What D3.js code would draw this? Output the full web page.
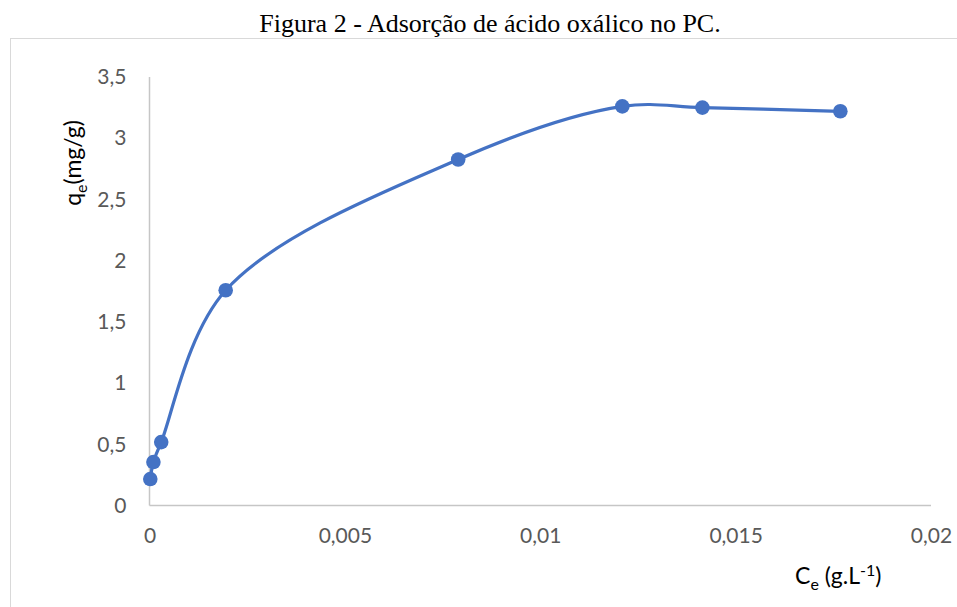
<!DOCTYPE html>
<html>
<head>
<meta charset="utf-8">
<script src="https://cdn.jsdelivr.net/npm/d3@7"></script>
<style>
  body { margin: 0; background: #fff; }
  svg { display: block; }
</style>
</head>
<body>
<svg id="chart"></svg>
<script>
// data
const ceValues = [0.00002, 0.0001, 0.0003, 0.00195, 0.0079, 0.0121, 0.01415, 0.01768];
const qeValues = [0.216, 0.355, 0.518, 1.758, 2.826, 3.26, 3.25, 3.22];
const xTicks = [0, 0.005, 0.01, 0.015, 0.02];
const xTickLabels = ["0", "0,005", "0,01", "0,015", "0,02"];
const yTicks = [0, 0.5, 1, 1.5, 2, 2.5, 3, 3.5];
const yTickLabels = ["0", "0,5", "1", "1,5", "2", "2,5", "3", "3,5"];

const w = 957;
const h = 607;
const plotLeft = 149.5;
const plotRight = 931;
const plotTop = 77;
const plotBottom = 505.5;

const points = ceValues.map((c, i) => ({ x: c, y: qeValues[i] }));

const xScale = d3.scaleLinear().domain([0, 0.02]).range([plotLeft, plotRight]);
const yScale = d3.scaleLinear().domain([0, 3.5]).range([plotBottom, plotTop]);

const svg = d3.select("#chart")
  .attr("width", w)
  .attr("height", h);

// outer frame
svg.append("rect")
  .attr("x", 10.5)
  .attr("y", 38.5)
  .attr("width", 980)
  .attr("height", 620)
  .attr("fill", "none")
  .attr("stroke", "#d9d9d9");

// title
svg.append("text")
  .attr("x", 490)
  .attr("y", 32)
  .attr("text-anchor", "middle")
  .style("font-family", "'Liberation Serif', 'Times New Roman', serif")
  .style("font-size", "26px")
  .attr("fill", "#000")
  .text("Figura 2 - Adsorção de ácido oxálico no PC.");

const labelFont = "Lato, 'Open Sans', sans-serif";

// axes
const xAxis = d3.axisBottom(xScale)
  .tickValues(xTicks)
  .tickFormat((d, i) => xTickLabels[i])
  .tickSize(0)
  .tickPadding(22.5);
const gx = svg.append("g")
  .attr("transform", "translate(0," + plotBottom + ")")
  .call(xAxis);

const yAxis = d3.axisLeft(yScale)
  .tickValues(yTicks)
  .tickFormat((d, i) => yTickLabels[i])
  .tickSize(0)
  .tickPadding(23);
const gy = svg.append("g")
  .attr("transform", "translate(" + plotLeft + ",0)")
  .call(yAxis);

[gx, gy].forEach(g => {
  g.select(".domain").attr("stroke", "#c6c6c6").attr("stroke-width", 1.5);
  g.selectAll(".tick text")
    .attr("fill", "#595959")
    .style("font-family", labelFont)
    .style("font-size", "21px");
});
gx.select(".domain").attr("d", "M" + plotLeft + ",0H" + plotRight);
gy.select(".domain").attr("d", "M0," + plotBottom + "V" + plotTop);

// smoothed series line
const line = d3.line()
  .x(d => xScale(d.x))
  .y(d => yScale(d.y))
  .curve(d3.curveCatmullRom.alpha(0.5));

svg.append("path")
  .datum(points)
  .attr("d", line)
  .attr("fill", "none")
  .attr("stroke", "#4472c4")
  .attr("stroke-width", 3.2);

svg.selectAll("circle.pt")
  .data(points)
  .enter()
  .append("circle")
  .attr("class", "pt")
  .attr("cx", d => xScale(d.x))
  .attr("cy", d => yScale(d.y))
  .attr("r", 7.3)
  .attr("fill", "#4472c4");

// axis titles
const xTitle = svg.append("text")
  .attr("x", 795)
  .attr("y", 584)
  .style("font-family", labelFont)
  .style("font-size", "23px")
  .attr("fill", "#000");
xTitle.append("tspan").text("C");
xTitle.append("tspan").attr("dy", 6).style("font-size", "16px").text("e");
xTitle.append("tspan").attr("dy", -6).text(" (g.L");
xTitle.append("tspan").attr("dy", -8).style("font-size", "16px").text("-1");
xTitle.append("tspan").attr("dy", 8).text(")");

const yTitle = svg.append("text")
  .attr("transform", "translate(81,163) rotate(-90)")
  .attr("text-anchor", "middle")
  .style("font-family", labelFont)
  .style("font-size", "23px")
  .attr("fill", "#000");
yTitle.append("tspan").text("q");
yTitle.append("tspan").attr("dy", 6).style("font-size", "16px").text("e");
yTitle.append("tspan").attr("dy", -6).text("(mg/g)");
</script>
</body>
</html>
